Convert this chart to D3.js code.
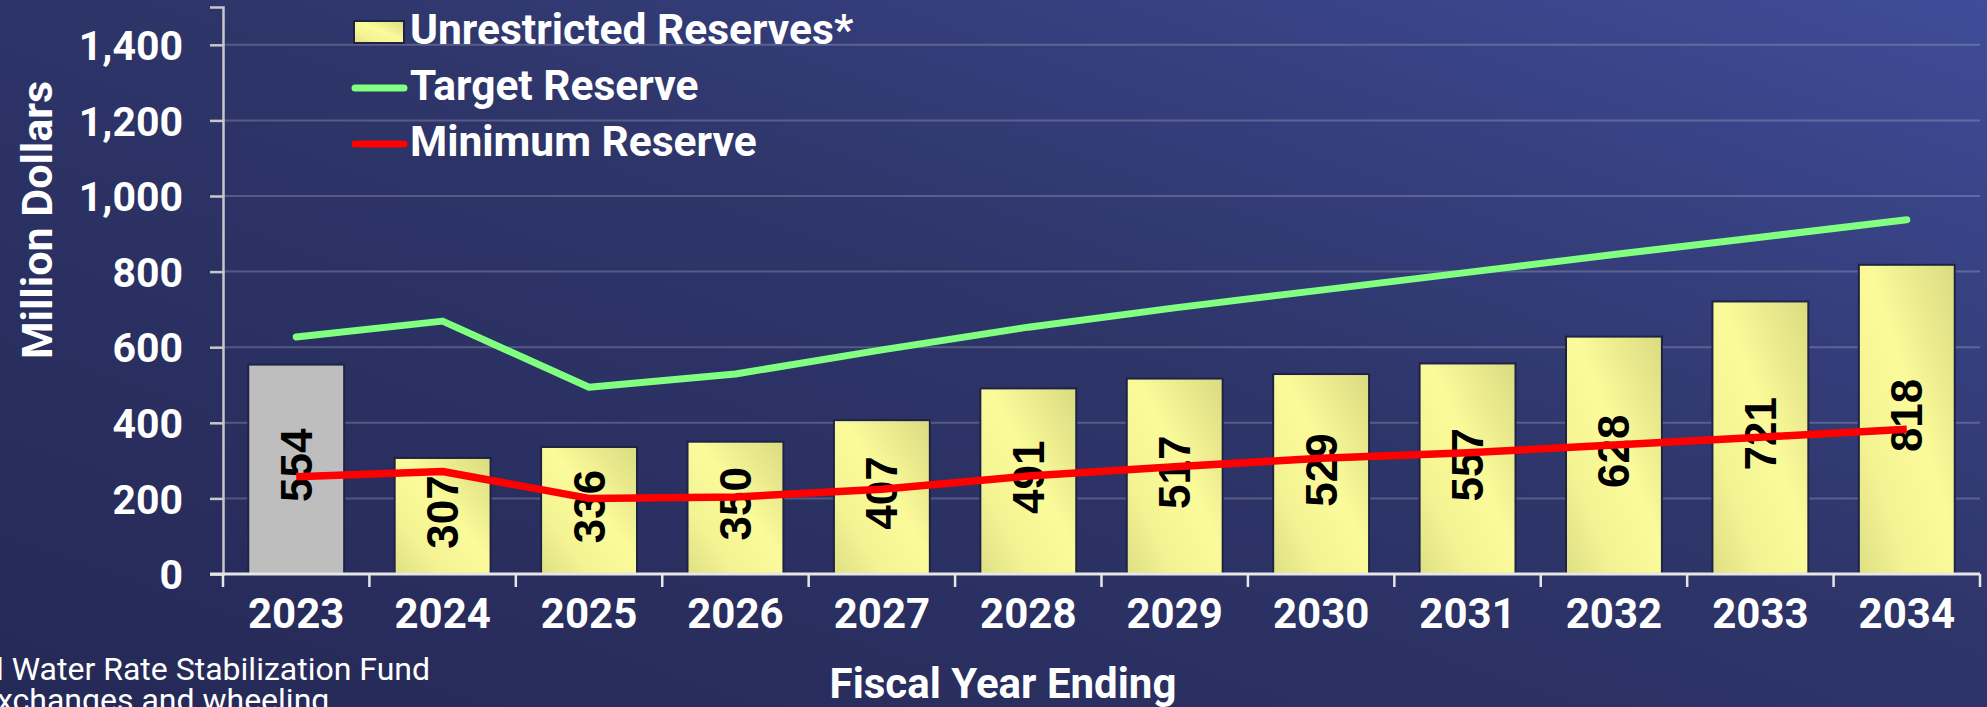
<!DOCTYPE html>
<html><head><meta charset="utf-8">
<script src="https://cdn.jsdelivr.net/npm/d3@7/dist/d3.min.js"></script>
<style>html,body{margin:0;padding:0;overflow:hidden;background:#2b3063}</style>
</head><body>
<svg id="c" width="1987" height="707"></svg>
<script>
const years = ["2023","2024","2025","2026","2027","2028","2029","2030","2031","2032","2033","2034"];
const reserves = [554,307,336,350,407,491,517,529,557,628,721,818];
const targetReserve = [627,669,494,529,593,653,704,751,798,845,891,937];
const minimumReserve = [257,271,200,204,224,259,284,306,321,341,362,383];
const yTicks = [0,200,400,600,800,1000,1200,1400];
const legendLabels = ["Unrestricted Reserves*","Target Reserve","Minimum Reserve"];
const footnotes = ["l Water Rate Stabilization Fund","xchanges and wheeling"];

const W=1987,H=707;
const m={left:223,right:1980,top:7,bottom:574};
const svg=d3.select("#c");
const defs=svg.append("defs");
const bg=defs.append("linearGradient").attr("id","bg").attr("x1","0").attr("y1","1").attr("x2","1").attr("y2","0");
bg.append("stop").attr("offset","0").attr("stop-color","#252957");
bg.append("stop").attr("offset","0.55").attr("stop-color","#2e3569");
bg.append("stop").attr("offset","1").attr("stop-color","#3f4c98");
const bar=defs.append("linearGradient").attr("id","barg").attr("x1","1").attr("y1","0").attr("x2","0").attr("y2","1");
bar.append("stop").attr("offset","0").attr("stop-color","#dada80");
bar.append("stop").attr("offset","0.45").attr("stop-color","#fbfb9b");
bar.append("stop").attr("offset","0.75").attr("stop-color","#f3f394");
bar.append("stop").attr("offset","1").attr("stop-color","#dede84");

svg.append("rect").attr("width",W).attr("height",H).attr("fill","url(#bg)");

const x=d3.scaleBand().domain(years).range([m.left,m.right]).paddingInner(0.345).paddingOuter(0.1725);
const y=d3.scaleLinear().domain([0,1500]).range([m.bottom,m.top]);

// gridlines
svg.append("g").selectAll("line").data(yTicks.filter(d=>d>0)).join("line")
 .attr("x1",m.left).attr("x2",m.right).attr("y1",d=>y(d)).attr("y2",d=>y(d))
 .attr("stroke","rgba(255,255,255,0.2)").attr("stroke-width",2);

// bars
svg.append("g").selectAll("rect").data(years).join("rect")
 .attr("x",d=>x(d)).attr("width",x.bandwidth())
 .attr("y",(d,i)=>y(reserves[i])).attr("height",(d,i)=>y(0)-y(reserves[i]))
 .attr("fill",(d,i)=>i===0?"#bebebe":"url(#barg)")
 .attr("stroke","#1e2346").attr("stroke-width",2);

// y axis
const yAxis=svg.append("g").attr("transform",`translate(${m.left},0)`)
 .call(d3.axisLeft(y).tickValues(yTicks).tickSize(13).tickPadding(27).tickFormat(d3.format(",")));
yAxis.select(".domain").attr("stroke","#c8c8c8").attr("stroke-width",2.5);
yAxis.selectAll(".tick line").attr("stroke","#c8c8c8").attr("stroke-width",2.5);
yAxis.selectAll("text").attr("fill","#fff").attr("font-family","Roboto").attr("font-weight","700").attr("font-size",41).attr("dy","0.36em");

// x axis
const xAxis=svg.append("g").attr("transform",`translate(0,${m.bottom})`)
 .call(d3.axisBottom(x).tickSize(0).tickPadding(24));
xAxis.select(".domain").remove();
xAxis.append("line").attr("x1",m.left-13).attr("x2",m.right).attr("y1",0).attr("y2",0).attr("stroke","#e6e6e6").attr("stroke-width",3);
const step=x.step();
xAxis.selectAll(".bnd").data(d3.range(years.length+1)).join("line").attr("class","bnd")
 .attr("x1",i=>m.left+i*step).attr("x2",i=>m.left+i*step).attr("y1",0).attr("y2",13)
 .attr("stroke","#e6e6e6").attr("stroke-width",2.5);
xAxis.selectAll("text").attr("fill","#fff").attr("font-family","Roboto").attr("font-weight","700").attr("font-size",42).attr("dy","0.71em");

// data labels
svg.append("g").selectAll("text").data(years).join("text")
 .attr("transform",(d,i)=>`translate(${x(d)+x.bandwidth()/2},${(y(reserves[i])+y(0))/2-4}) rotate(-90)`)
 .attr("text-anchor","middle").attr("dominant-baseline","central")
 .attr("font-family","Liberation Sans, Arial").attr("font-weight","700").attr("font-size",44).attr("fill","#000")
 .text((d,i)=>reserves[i]);

// lines
const cx=d=>x(d)+x.bandwidth()/2;
const line=d3.line().x((d,i)=>cx(years[i])).y(d=>y(d));
svg.append("path").datum(targetReserve).attr("d",line).attr("fill","none").attr("stroke","#80ff80").attr("stroke-width",7).attr("stroke-linecap","round").attr("stroke-linejoin","round");
svg.append("path").datum(minimumReserve).attr("d",line).attr("fill","none").attr("stroke","#ff0000").attr("stroke-width",7.5).attr("stroke-linejoin","round");

// axis titles
svg.append("text").attr("transform","translate(52,220) rotate(-90)").attr("text-anchor","middle")
 .attr("font-family","Roboto").attr("font-weight","700").attr("font-size",43).attr("fill","#fff").text("Million Dollars");
svg.append("text").attr("x",1003).attr("y",698).attr("text-anchor","middle")
 .attr("font-family","Roboto").attr("font-weight","700").attr("font-size",42).attr("fill","#fff").text("Fiscal Year Ending");

// footnotes
svg.append("g").selectAll("text").data(footnotes).join("text")
 .attr("x",(d,i)=>i===0?-4:-3).attr("y",(d,i)=>680+i*31)
 .attr("font-family","Roboto").attr("font-size",32).attr("fill","#fff").text(d=>d);

// legend
const lg=svg.append("g");
const rowY=[32,88,144];
lg.append("rect").attr("x",354).attr("y",21).attr("width",50).attr("height",22).attr("fill","url(#barg)").attr("stroke","#1e2346").attr("stroke-width",2);
lg.append("line").attr("x1",355).attr("x2",404).attr("y1",rowY[1]).attr("y2",rowY[1]).attr("stroke","#80ff80").attr("stroke-width",7).attr("stroke-linecap","round");
lg.append("line").attr("x1",355).attr("x2",404).attr("y1",rowY[2]).attr("y2",rowY[2]).attr("stroke","#ff0000").attr("stroke-width",7).attr("stroke-linecap","round");
lg.selectAll("text").data(legendLabels).join("text")
 .attr("x",410).attr("y",(d,i)=>rowY[i]+12).attr("font-family","Roboto").attr("font-weight","700").attr("font-size",42.5).attr("fill","#fff").text(d=>d);
</script>
</body></html>
